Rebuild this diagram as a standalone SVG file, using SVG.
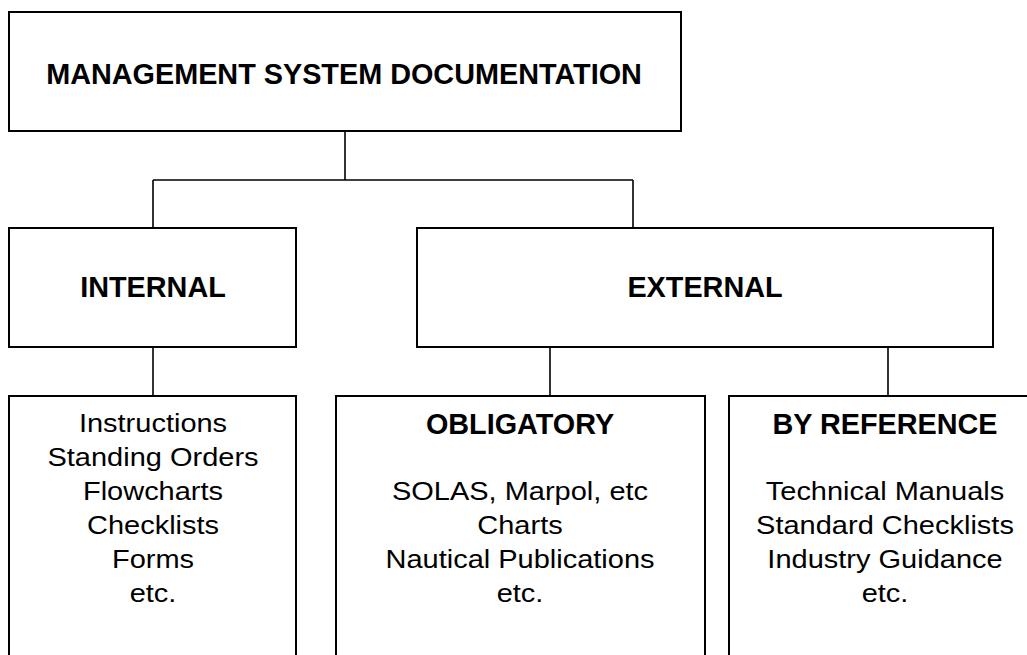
<svg xmlns="http://www.w3.org/2000/svg" width="1027" height="655" viewBox="0 0 1027 655">
<style>
.box{fill:#fff;stroke:#000;stroke-width:2}
.con{fill:none;stroke:#000;stroke-width:1.6}
.h{font-family:"Liberation Sans",Arial,Helvetica,sans-serif;font-weight:bold;font-size:28.8px;text-anchor:middle;fill:#000}
.b{font-family:"Liberation Sans",Arial,Helvetica,sans-serif;font-size:25.5px;text-anchor:middle;fill:#000}
</style>
<rect width="1027" height="655" fill="#fff"/>
<g id="connectors">
<path class="con" d="M345,131 V180 M153,180 H633 M153,180 V228 M633,180 V228"/>
<path class="con" d="M153,347 V396"/>
<path class="con" d="M550,347 V396 M888,347 V396"/>
</g>
<g id="node-management">
<rect class="box" x="9" y="12" width="672" height="119"/>
<text class="h" x="344" y="84">MANAGEMENT SYSTEM DOCUMENTATION</text>
</g>
<g id="node-internal">
<rect class="box" x="9" y="228" width="287" height="119"/>
<text class="h" x="153" y="297">INTERNAL</text>
</g>
<g id="node-external">
<rect class="box" x="417" y="228" width="576" height="119"/>
<text class="h" x="705" y="297">EXTERNAL</text>
</g>
<g id="node-internal-docs">
<rect class="box" x="9" y="396" width="287" height="270"/>
<g transform="translate(153 0) scale(1.137 1)">
<text class="b" x="0" y="432">Instructions</text>
<text class="b" x="0" y="466">Standing Orders</text>
<text class="b" x="0" y="500">Flowcharts</text>
<text class="b" x="0" y="534">Checklists</text>
<text class="b" x="0" y="568">Forms</text>
<text class="b" x="0" y="602">etc.</text>
</g>
</g>
<g id="node-obligatory">
<rect class="box" x="336" y="396" width="369" height="270"/>
<text class="h" x="520" y="434">OBLIGATORY</text>
<g transform="translate(520 0) scale(1.137 1)">
<text class="b" x="0" y="500">SOLAS, Marpol, etc</text>
<text class="b" x="0" y="534">Charts</text>
<text class="b" x="0" y="568">Nautical Publications</text>
<text class="b" x="0" y="602">etc.</text>
</g>
</g>
<g id="node-by-reference">
<rect class="box" x="729" y="396" width="312" height="270"/>
<text class="h" x="885" y="434">BY REFERENCE</text>
<g transform="translate(885 0) scale(1.137 1)">
<text class="b" x="0" y="500">Technical Manuals</text>
<text class="b" x="0" y="534">Standard Checklists</text>
<text class="b" x="0" y="568">Industry Guidance</text>
<text class="b" x="0" y="602">etc.</text>
</g>
</g>
</svg>
